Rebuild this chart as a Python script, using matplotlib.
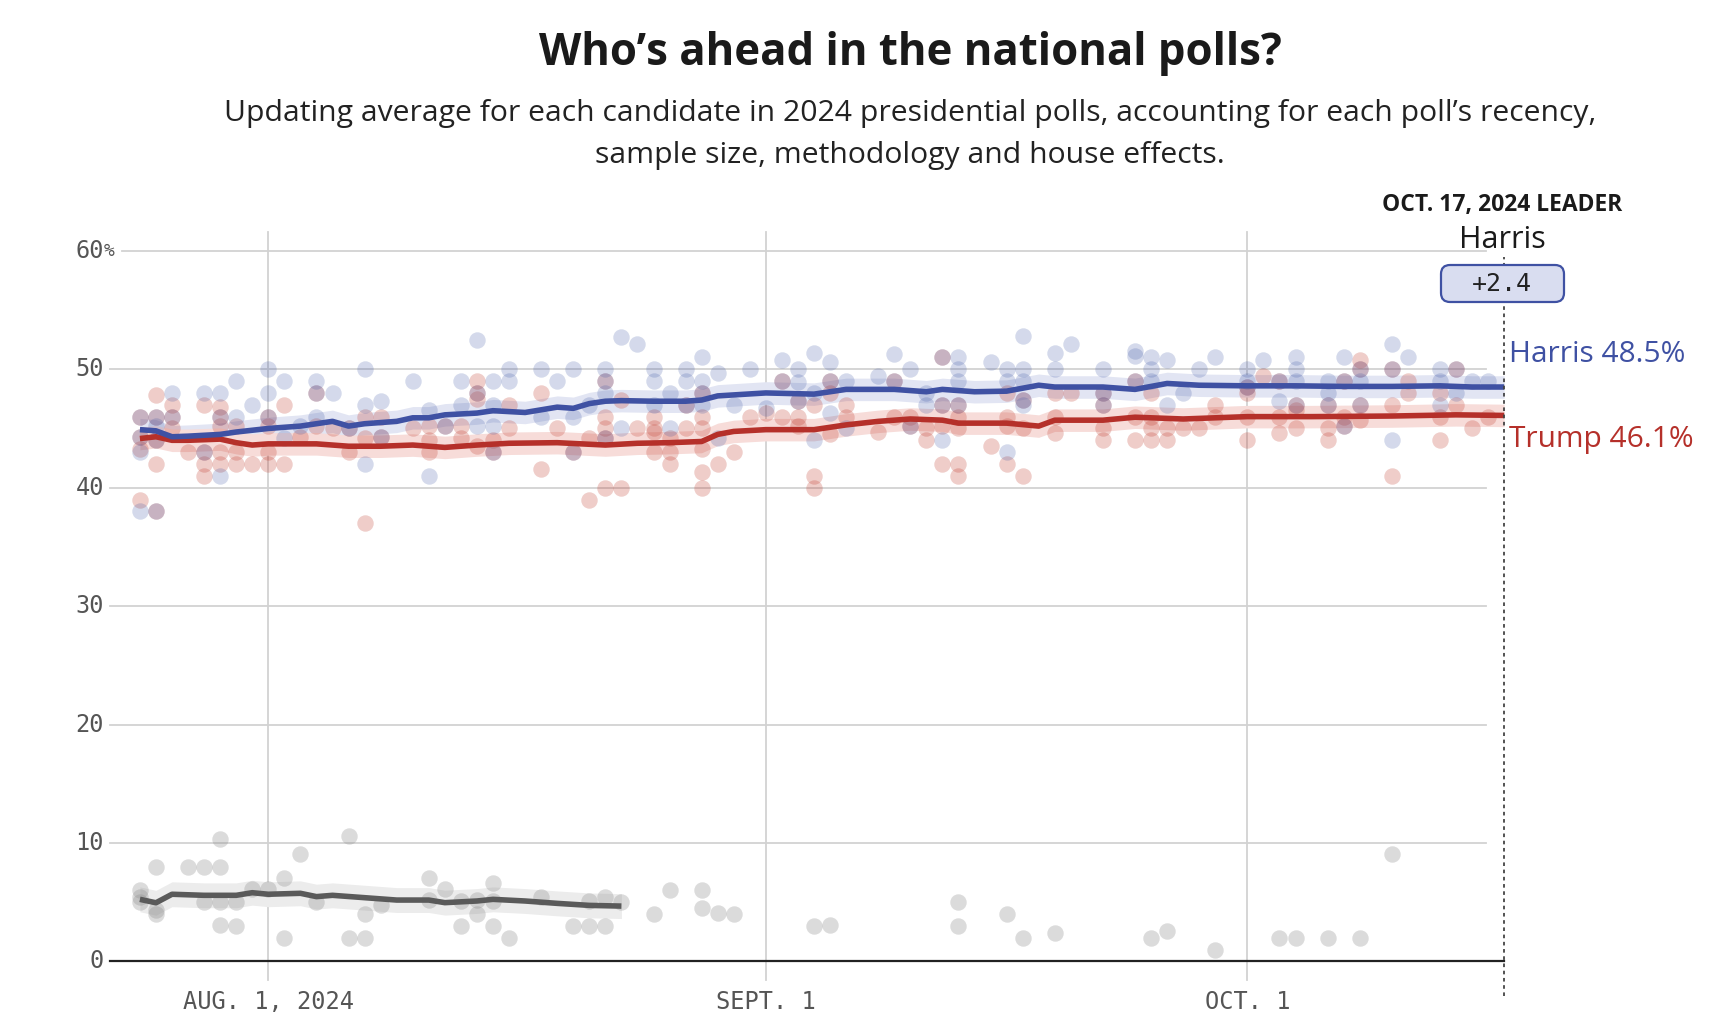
import matplotlib
matplotlib.use("Agg")
import matplotlib.pyplot as plt
from matplotlib.patches import FancyBboxPatch
from matplotlib.transforms import IdentityTransform
import numpy as np

# days are counted from Aug. 1, 2024 (day 0)
tick_days = [0, 31, 61]
tick_labels = ["AUG. 1, 2024", "SEPT. 1", "OCT. 1"]
y_ticks = [0, 10, 20, 30, 40, 50, 60]

# polling averages
harris_avg_days = [-8, -7, -6, -5, -3, -2, 0, 2, 4, 5, 6, 8, 9, 10, 11, 13, 14, 16, 18, 19, 20, 21, 22,
                   24, 26, 27, 28, 31, 34, 36, 39, 41, 42, 44, 46, 48, 49, 52, 54, 56, 58, 61, 64, 67,
                   70, 73, 75, 77]
harris_avg = [44.9, 44.8, 44.3, 44.35, 44.5, 44.7, 45.0, 45.2, 45.6, 45.2, 45.4, 45.6, 45.9, 45.9, 46.15,
              46.3, 46.5, 46.35, 46.8, 46.7, 47.1, 47.3, 47.35, 47.3, 47.3, 47.4, 47.75, 48.0, 47.9, 48.3,
              48.3, 48.1, 48.3, 48.1, 48.15, 48.65, 48.5, 48.5, 48.3, 48.8, 48.65, 48.6, 48.6, 48.55,
              48.55, 48.6, 48.5, 48.5]
trump_avg_days = [-8, -7, -6, -5, -3, -2, -1, 0, 3, 5, 7, 9, 11, 13, 15, 18, 21, 23, 25, 27, 28, 29, 31,
                  34, 36, 38, 40, 42, 43, 46, 48, 49, 52, 54, 57, 61, 65, 70, 74, 77]
trump_avg = [44.15, 44.3, 44.0, 44.0, 44.1, 43.8, 43.6, 43.7, 43.7, 43.5, 43.5, 43.6, 43.4, 43.6, 43.75,
             43.8, 43.6, 43.75, 43.8, 43.9, 44.5, 44.75, 44.9, 44.9, 45.3, 45.6, 45.8, 45.7, 45.45,
             45.45, 45.2, 45.7, 45.7, 45.95, 45.8, 46.0, 46.0, 46.05, 46.15, 46.1]
other_avg_days = [-8, -7, -6, -4, -2, -1, 0, 2, 3, 4, 6, 8, 10, 11, 13, 14, 16, 18, 20, 22]
other_avg = [5.24, 4.95, 5.67, 5.58, 5.58, 5.8, 5.67, 5.75, 5.47, 5.58, 5.38, 5.18, 5.18, 4.96, 5.1,
             5.24, 5.1, 4.9, 4.73, 4.67]
harris_band = 0.95
trump_band = 0.95
other_band = 1.05

# individual polls
harris_poll_days = [-8, -8, -8, -8, -7, -7, -7, -7, -6, -6, -4, -4, -3, -3, -3, -2, -2, -1, 0, 0, 0,
                    1, 1, 2, 3, 3, 3, 4, 5, 6, 6, 6, 7, 7, 9, 10, 10, 11, 12, 12, 13, 13, 13,
                    14, 14, 14, 14, 15, 15, 17, 17, 18, 19, 19, 19, 20, 21, 21, 21, 21, 22, 22, 23,
                    24, 24, 24, 25, 25, 26, 26, 26, 27, 27, 27, 27, 28, 28, 29, 30, 31, 32, 32,
                    33, 33, 33, 34, 34, 34, 35, 35, 35, 36, 36, 38, 39, 39, 40, 40, 41, 41,
                    42, 42, 42, 43, 43, 43, 43, 45, 46, 46, 46, 47, 47, 47, 47, 47, 49, 49, 50,
                    52, 52, 52, 54, 54, 54, 55, 55, 55, 56, 56, 57, 58, 59, 61, 61, 61, 62, 63, 63,
                    64, 64, 64, 64, 66, 66, 66, 67, 67, 67, 68, 68, 68, 70, 70, 70, 71, 73, 73, 73,
                    74, 74, 75, 76]
harris_polls = [46, 44.3, 43, 38, 46, 45.2, 44, 38, 48, 46, 48, 43, 48, 46, 41, 49, 46, 47, 50, 48, 46,
                49, 44.2, 45.2, 49, 48, 46, 48, 45, 50, 47, 42, 47.3, 44.3, 49, 46.6, 41, 45.2, 49, 47,
                52.5, 48, 45.2, 49, 47, 45.2, 43, 50, 49, 50, 46, 49, 50, 46, 43, 47, 50, 49, 48, 44.2,
                52.7, 45, 52.1, 50, 49, 47, 48, 45, 50, 49, 47, 51, 49, 48, 47, 49.7, 44.2, 47, 50,
                46.7, 50.8, 49, 50, 48.9, 47.3, 51.4, 48, 44, 50.6, 49, 46.3, 49, 45, 49.4, 51.3, 49,
                50, 45.2, 48, 47, 51, 47, 44, 51, 50, 49, 47, 50.6, 50, 49, 43, 52.8, 50, 49, 47, 47.4,
                51.35, 50, 52.1, 50, 48, 47, 51.5, 51.1, 49, 51, 50, 49, 50.8, 47, 48, 50, 51, 50, 49,
                48.5, 50.8, 49, 47.3, 51, 50, 49, 47, 49, 48, 47, 51, 49, 45.2, 50, 49, 47, 52.1, 50,
                44, 51, 50, 49, 47, 50, 48, 49, 49]
trump_poll_days = [-8, -8, -8, -8, -7, -7, -7, -7, -7, -6, -6, -6, -5, -4, -4, -4, -4, -3, -3, -3, -3,
                   -3, -2, -2, -2, -1, 0, 0, 0, 0, 1, 1, 2, 3, 3, 4, 5, 5, 6, 6, 6, 7, 7, 9, 10, 10,
                   10, 11, 12, 12, 13, 13, 13, 13, 14, 14, 15, 15, 17, 17, 18, 19, 20, 20, 21, 21, 21,
                   21, 21, 22, 22, 23, 24, 24, 24, 24, 25, 25, 25, 26, 26, 27, 27, 27, 27, 27, 27, 28,
                   29, 30, 31, 32, 32, 33, 33, 33, 34, 34, 34, 35, 35, 35, 36, 36, 38, 39, 39, 40, 40,
                   41, 41, 42, 42, 42, 42, 43, 43, 43, 43, 43, 45, 46, 46, 46, 46, 47, 47, 47, 49, 49,
                   49, 50, 52, 52, 52, 52, 54, 54, 54, 55, 55, 55, 55, 56, 56, 57, 58, 59, 59, 61, 61,
                   61, 61, 62, 63, 63, 63, 64, 64, 64, 66, 66, 66, 67, 67, 67, 68, 68, 68, 68, 70, 70,
                   70, 71, 71, 73, 73, 73, 74, 74, 75, 76]
trump_polls = [46, 44.3, 43.3, 39, 47.8, 46, 44, 42, 38, 47, 46, 45, 43, 47, 43, 42, 41, 46.8, 46, 45.2,
               43, 42, 45.2, 43, 42, 42, 46, 45.2, 43, 42, 47, 42, 44.3, 48, 45.2, 45, 45, 43, 46, 44.2,
               37, 46, 44.3, 45, 45.2, 44, 43, 45.2, 45.2, 44.2, 49, 48, 47.5, 43.5, 44, 43, 47, 45, 48,
               41.6, 45, 43, 44.2, 39, 49, 46, 45, 44.2, 40, 47.4, 40, 45, 46, 45, 44.7, 43, 44.2, 43,
               42, 47, 45, 48, 46, 45, 43.3, 41.3, 40, 42, 43, 46, 46.3, 49, 46, 47.3, 46, 45.2, 47,
               41, 40, 49, 48, 44.5, 47, 46, 44.7, 49, 46, 46, 45.2, 45, 44, 51, 47, 45.2, 42, 47, 46,
               45, 42, 41, 43.5, 48, 46, 45.2, 42, 47.4, 45, 41, 48, 46, 44.6, 48, 48, 47, 45, 44, 49,
               46, 44, 48, 46, 45, 44, 45, 44, 45, 45, 47, 46, 48.5, 48, 46, 44, 49.4, 49, 46, 44.6,
               47, 46.6, 45, 47, 45, 44, 49, 46, 45.2, 50.8, 50, 47, 45.7, 50, 47, 41, 49, 48, 48, 46,
               44, 50, 47, 45, 46]
other_poll_days = [-8, -8, -8, -7, -7, -7, -5, -4, -4, -3, -3, -3, -3, -2, -2, -1, 0, 1, 1, 2, 3, 5, 5,
                   6, 6, 7, 10, 10, 11, 12, 12, 13, 13, 14, 14, 14, 15, 17, 19, 20, 20, 21, 21, 22,
                   24, 25, 27, 27, 28, 29, 34, 35, 43, 43, 46, 47, 49, 55, 56, 59, 63, 64, 66, 68, 70]
other_polls = [6, 5.4, 5, 8, 4.3, 4, 8, 8, 5, 10.3, 8, 5, 3.1, 5, 3, 6.1, 6.1, 7, 2, 9.1, 5, 10.6, 2,
               4, 2, 4.8, 7, 5.2, 6.1, 5.1, 3, 5.2, 4, 6.65, 5.1, 3, 2, 5.4, 3, 5.1, 3, 5.4, 3, 5,
               4, 6, 6, 4.5, 4.1, 4, 3, 3.1, 5, 3, 4, 2, 2.4, 2, 2.55, 1, 2, 2, 2, 2, 9.1]

BLUE = "#3f51a3"
RED = "#b5302a"
GRAY = "#5a5a5a"

W, H = 1717, 1024
fig = plt.figure(figsize=(W / 100, H / 100), dpi=100)
ax = fig.add_axes([0, 0, 1, 1])
ax.axis("off")

# pixel <-> data mapping (Aug 1 at x=268 px, 0% at y=961 px)
PX_DAY, X0 = 16.05, 268.3
PX_PT, Y0 = 11.843, 961.4
ax.set_xlim(-X0 / PX_DAY, (W - X0) / PX_DAY)
ax.set_ylim((Y0 - H) / PX_PT, Y0 / PX_PT)


def fx(px):
    return px / W


def fy(py):
    return 1 - py / H


# grid
for v in y_ticks[1:]:
    start = -9.1 if v == 60 else -9.86
    ax.plot([start, 75.9], [v, v], color="#d2d2d2", lw=1.3, zorder=1)
for d in tick_days:
    ax.plot([d, d], [-1.6, 61.6], color="#d2d2d2", lw=1.3, zorder=1)
ax.plot([-9.86, 77], [0, 0], color="#222222", lw=1.6, zorder=2)

# bands
ax.fill_between(harris_avg_days, np.array(harris_avg) - harris_band, np.array(harris_avg) + harris_band,
                color="#e2e5f3", lw=0, zorder=2)
ax.fill_between(trump_avg_days, np.array(trump_avg) - trump_band, np.array(trump_avg) + trump_band,
                color="#f7dcd9", lw=0, zorder=2)
ax.fill_between(other_avg_days, np.array(other_avg) - other_band, np.array(other_avg) + other_band,
                color="#ececec", lw=0, zorder=2)

# polls
ax.scatter(other_poll_days, other_polls, s=140, color="#8a8a8a", alpha=0.3, lw=0, zorder=3)
ax.scatter(trump_poll_days, trump_polls, s=140, color="#c0392b", alpha=0.25, lw=0, zorder=3)
ax.scatter(harris_poll_days, harris_polls, s=140, color="#3c55a5", alpha=0.22, lw=0, zorder=3)

# averages
ax.plot(other_avg_days, other_avg, color=GRAY, lw=4, zorder=4, solid_capstyle="butt")
ax.plot(trump_avg_days, trump_avg, color=RED, lw=4, zorder=5, solid_capstyle="butt")
ax.plot(harris_avg_days, harris_avg, color=BLUE, lw=4, zorder=6, solid_capstyle="butt")

# leader marker
ax.plot([77, 77], [-2.9, 59.5], color="#444444", lw=1.3, ls=(0, (2, 2)), zorder=7)

# tick labels
mono = "DejaVu Sans Mono"
for v in y_ticks:
    ax.text((104 - X0) / PX_DAY, v, str(v), ha="right", va="center", fontsize=17,
            family=mono, color="#555555")
ax.text((104 - X0) / PX_DAY, 60, "%", ha="left", va="center", fontsize=13,
        family=mono, color="#555555")
for d, lab in zip(tick_days, tick_labels):
    ax.text(d, (Y0 - 1002) / PX_PT, lab, ha="center", va="center", fontsize=17,
            family=mono, color="#555555")

# titles
fig.text(fx(910), fy(53), "Who\u2019s ahead in the national polls?", ha="center", va="center",
         fontsize=31.5, fontweight="bold", family="Open Sans", color="#1a1a1a")
fig.text(fx(910), fy(114),
         "Updating average for each candidate in 2024 presidential polls, accounting for each poll\u2019s recency,",
         ha="center", va="center", fontsize=21.7, family="Open Sans", color="#222222")
fig.text(fx(910), fy(156), "sample size, methodology and house effects.",
         ha="center", va="center", fontsize=21.7, family="Open Sans", color="#222222")

# leader annotation
fig.text(fx(1502), fy(205), "OCT. 17, 2024 LEADER", ha="center", va="center", fontsize=16.5,
         fontweight="bold", family="Open Sans", color="#1a1a1a")
fig.text(fx(1502), fy(240), "Harris", ha="center", va="center", fontsize=22,
         family="Open Sans", color="#1a1a1a")
box = FancyBboxPatch((1441, H - 302), 123, 37, boxstyle="round,pad=0,rounding_size=9",
                     transform=IdentityTransform(), facecolor="#d9ddf0", edgecolor=BLUE, lw=1.6, zorder=8)
fig.add_artist(box)
fig.text(fx(1502), fy(284), "+2.4", ha="center", va="center", fontsize=18,
         family=mono, color="#222222", zorder=9)

fig.text(fx(1509), fy(355), "Harris 48.5%", ha="left", va="center", fontsize=21.5,
         family="Open Sans", color=BLUE)
fig.text(fx(1509), fy(440), "Trump 46.1%", ha="left", va="center", fontsize=21.5,
         family="Open Sans", color=RED)

fig.savefig("out.png", dpi=100)
